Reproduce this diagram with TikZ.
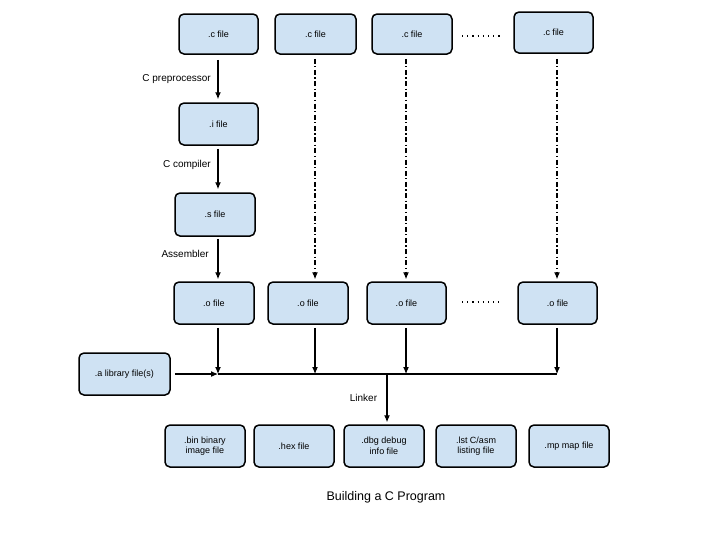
\documentclass[tikz,border=0pt]{standalone}
\usepackage{fontspec}
\setmainfont{Liberation Sans}
\usetikzlibrary{arrows.meta}
\definecolor{boxfill}{HTML}{CFE2F3}
\begin{document}
\begin{tikzpicture}[x=1pt,y=-1pt,
  filebox/.style={draw=black, line width=1.5pt, fill=boxfill, rounded corners=5pt,
    minimum width=80pt, minimum height=42pt, inner sep=1pt, align=center,
    font=\fontsize{9}{10.5}\selectfont},
  arr/.style={line width=1.1pt, -{Latex[length=7pt,width=6pt]}},
  dd/.style={arr, dash pattern=on 5pt off 2.5pt on 1.2pt off 2.5pt},
  dots/.style={line width=1.1pt, dash pattern=on 1.2pt off 4pt},
  lbl/.style={font=\fontsize{10}{12}\selectfont, inner sep=0pt}]
\useasboundingbox (0,0) rectangle (728,542);
\fill[white] (0,0) rectangle (728,542);

% top row
\node[filebox, minimum width=79pt, minimum height=40pt] (c1) at (218.5,34) {.c file};
\node[filebox, minimum width=81pt, minimum height=40pt] (c2) at (315.5,34) {.c file};
\node[filebox, minimum width=80pt, minimum height=40pt] (c3) at (412,34) {.c file};
\node[filebox, minimum width=79pt, minimum height=41pt] (c4) at (553.5,32.5) {.c file};
\coordinate (d1a) at (462,36);
\coordinate (d1b) at (501,36);
\draw[dots] (d1a) -- (d1b);

\node[filebox, minimum width=79pt] (i) at (218.5,124) {.i file};
\node[filebox, minimum height=43pt] (s) at (215,214.5) {.s file};

% object row
\node[filebox] (o1) at (214,303) {.o file};
\node[filebox] (o2) at (308,303) {.o file};
\node[filebox, minimum width=79pt] (o3) at (406.5,303) {.o file};
\node[filebox, minimum width=79pt] (o4) at (557.5,303) {.o file};
\coordinate (d2a) at (462,302);
\coordinate (d2b) at (499,302);
\draw[dots] (d2a) -- (d2b);

\node[filebox, minimum width=91pt] (a) at (124.5,374) {.a library file(s)};

% bus coordinates
\coordinate (k1) at (218,374);
\coordinate (k2) at (315,374);
\coordinate (k3) at (406,374);
\coordinate (k4) at (557,374);
\coordinate (L) at (387,374);

% outputs
\node[filebox] (b1) at (205,446) {.bin binary\\image file};
\node[filebox] (b2) at (294,446) {.hex file};
\node[filebox] (b3) at (384,446) {.dbg debug\\info file};
\node[filebox] (b4) at (476,446) {.lst C/asm\\listing file};
\node[filebox] (b5) at (569,446) {.mp map file};

% main chain
\draw[arr, shorten <=5pt, shorten >=3pt] (c1.south -| k1) -- (i.north -| k1);
\node[lbl, anchor=east] (lp) at (211,79) {C preprocessor};
\draw[arr, shorten <=3pt, shorten >=3pt] (i.south -| k1) -- (s.north -| k1);
\node[lbl, anchor=east] (lc) at (211,165) {C compiler};
\draw[arr, shorten <=2pt, shorten >=2pt] (s.south -| k1) -- (o1.north -| k1);
\node[lbl, anchor=east] (la) at (209,254) {Assembler};

% dash-dot
\draw[dd, shorten <=4pt, shorten >=2pt] (c2.south -| k2) -- (o2.north -| k2);
\draw[dd, shorten <=4pt, shorten >=2pt] (c3.south -| k3) -- (o3.north -| k3);
\draw[dd, shorten <=5pt, shorten >=2pt] (c4.south -| k4) -- (o4.north -| k4);

% to bus
\draw[arr, shorten <=3pt] (o1.south -| k1) -- (k1);
\draw[arr, shorten <=3pt] (o2.south -| k2) -- (k2);
\draw[arr, shorten <=3pt] (o3.south -| k3) -- (k3);
\draw[arr, shorten <=3pt] (o4.south -| k4) -- (k4);
\draw[arr, shorten <=4pt] (a.east) -- (k1);
\draw[line width=1.1pt] (k1) -- (k4);

% linker
\draw[arr, shorten >=2pt] (L) -- (b3.north -| L);
\node[lbl] (ll) at (363.5,398) {Linker};

\node[font=\fontsize{12.5}{14}\selectfont, inner sep=0pt] (title) at (386,497) {Building a C Program};
\end{tikzpicture}
\end{document}
